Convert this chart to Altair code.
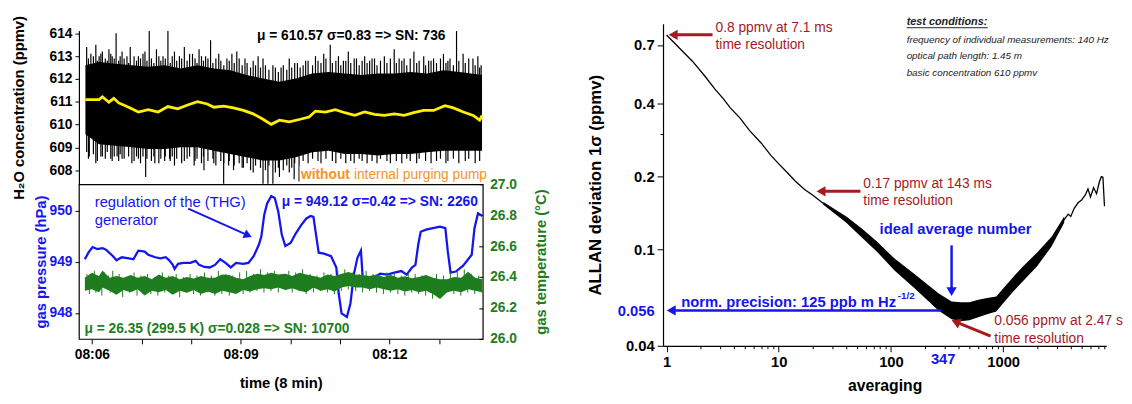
import altair as alt
import pandas as pd

FONT = "Liberation Sans"
BLUE = "#1515EE"
GREEN = "#1E7D1E"
DRED = "#A51A1F"
ORANGE = "#F7941D"
YELLOW = "#FFF000"

# ---------------- top-left panel: H2O concentration (time in minutes after 08:00)
band_t = [5.869, 6.145, 6.475, 6.806, 7.137, 7.467, 7.798, 8.128, 8.459, 8.79, 9.12, 9.451,
          9.782, 10.112, 10.443, 10.774, 11.104, 11.435, 11.766, 12.096, 12.427, 12.757,
          13.088, 13.419, 13.868]
band_hi = [612.6, 612.74, 612.67, 612.6, 612.53, 612.6, 612.46, 612.6, 612.46, 612.38, 612.17,
           612.02, 611.88, 612.02, 612.24, 612.31, 612.24, 612.17, 612.24, 612.24, 612.31,
           612.24, 612.38, 612.31, 612.17]
band_lo = [609.57, 609.14, 609.07, 609.0, 608.93, 608.93, 609.0, 609.0, 608.85, 608.71, 608.57,
           608.42, 608.42, 608.57, 608.78, 608.85, 608.71, 608.71, 608.64, 608.71, 608.71,
           608.78, 608.85, 608.85, 608.85]
spike_up_t = [5.894, 5.979, 6.079, 6.145, 6.211, 6.343, 6.409, 6.488, 6.608, 6.707, 6.773,
              6.938, 7.070, 7.156, 7.302, 7.434, 7.533, 7.665, 7.765, 7.864, 8.029, 8.161,
              8.293, 8.393, 8.558, 8.723, 8.823, 8.922, 9.087, 9.253, 9.352, 9.451, 9.650,
              9.815, 9.980, 10.145, 10.311, 10.509, 10.675, 10.807, 10.972, 11.072, 11.171,
              11.336, 11.501, 11.601, 11.700, 11.898, 12.097, 12.196, 12.296, 12.494, 12.692,
              12.792, 12.891, 13.090, 13.222, 13.354, 13.486, 13.685, 13.784, 13.850,
              5.93, 6.03, 6.11, 6.18, 6.27, 6.31, 6.38, 6.45, 6.54, 6.57, 6.65, 6.74, 6.85,
              6.90, 6.98, 7.03, 7.11, 7.2, 7.25, 7.35, 7.39, 7.48, 7.58, 7.62, 7.71, 7.81, 7.92,
              7.97, 8.08, 8.12, 8.21, 8.25, 8.34, 8.44, 8.5, 8.6, 8.66, 8.77, 8.87, 8.97, 9.03,
              9.13, 9.2, 9.3, 9.4, 9.5, 9.57, 9.7, 9.76, 9.86, 9.93, 10.03, 10.09, 10.2, 10.26,
              10.36, 10.45, 10.56, 10.62, 10.72, 10.85, 10.92, 11.02, 11.12, 11.22, 11.29,
              11.39, 11.45, 11.55, 11.65, 11.75, 11.82, 11.95, 12.02, 12.14, 12.25, 12.35,
              12.42, 12.55, 12.6, 12.73, 12.84, 12.95, 13.03, 13.14, 13.18, 13.29, 13.4, 13.53,
              13.6, 13.73, 13.82]
spike_up_v = [613.4, 613.1, 613.5, 613.0, 613.2, 613.3, 613.0, 614.0, 613.2, 613.0, 613.4,
              613.0, 613.2, 614.1, 613.3, 613.0, 614.1, 613.2, 613.0, 613.4, 613.1, 613.3,
              613.0, 613.7, 613.1, 612.9, 613.1, 613.2, 612.9, 612.8, 613.0, 612.9, 612.6,
              612.5, 612.9, 612.7, 612.8, 613.0, 613.1, 613.5, 613.0, 612.8, 613.2, 612.9,
              613.0, 612.8, 612.9, 613.0, 613.3, 612.9, 612.9, 613.2, 613.0, 612.8, 612.9,
              613.1, 612.9, 614.1, 613.1, 612.9, 613.0, 612.6,
              612.9, 613.0, 612.8, 613.1, 612.9, 612.8, 613.1, 612.9, 612.8, 613.0, 612.9,
              612.7, 613.0, 612.8, 612.9, 613.1, 612.8, 612.9, 612.7, 613.0, 612.8, 612.9,
              612.7, 613.0, 612.8, 612.9, 612.8, 613.1, 612.9, 612.7, 613.0, 612.8, 612.9,
              612.7, 612.9, 612.8, 612.6, 612.8, 612.7, 612.9, 612.6, 612.7, 612.5, 612.6,
              612.5, 612.6, 612.4, 612.5, 612.3, 612.6, 612.4, 612.5, 612.7, 612.5, 612.6,
              612.8, 612.6, 612.8, 612.7, 612.9, 612.7, 612.8, 612.6, 612.8, 612.7, 612.9,
              612.6, 612.8, 612.7, 612.9, 612.6, 612.8, 612.7, 612.9, 612.7, 612.8, 612.6,
              612.9, 612.7, 612.8, 612.6, 612.8, 612.7, 612.9, 612.7, 612.8, 612.6, 612.8,
              612.7, 612.9, 612.6, 612.5]
spike_dn_t = [5.894, 5.947, 6.079, 6.211, 6.409, 6.508, 6.608, 6.806, 6.938, 7.084, 7.269,
              7.467, 7.566, 7.665, 7.864, 8.062, 8.260, 8.459, 8.657, 8.757, 8.856, 9.055,
              9.253, 9.451, 9.550, 9.650, 9.782, 9.980, 10.079, 10.178,
              5.93, 6.03, 6.11, 6.18, 6.27, 6.31, 6.38, 6.45, 6.54, 6.57, 6.65, 6.74, 6.85,
              6.90, 6.98, 7.03, 7.11, 7.2, 7.25, 7.35, 7.39, 7.48, 7.58, 7.62, 7.71, 7.81, 7.92,
              7.97, 8.08, 8.12, 8.21, 8.25, 8.34, 8.44, 8.5, 8.6, 8.66, 8.77, 8.87, 8.97, 9.03,
              9.13, 9.2, 9.3, 9.4, 9.5, 9.57, 9.7, 9.76, 9.86, 9.93, 10.03, 10.09, 10.26, 10.36,
              10.45, 10.56, 10.62, 10.72, 10.85, 10.92, 11.02, 11.12, 11.22, 11.29, 11.39,
              11.45, 11.55, 11.65, 11.75, 11.82, 11.95, 12.02, 12.14, 12.25, 12.35, 12.42,
              12.55, 12.6, 12.73, 12.84, 12.95, 13.03, 13.14, 13.18, 13.29, 13.4, 13.53, 13.6,
              13.73, 13.82]
spike_dn_v = [608.8, 608.6, 608.3, 608.6, 608.4, 608.6, 608.5, 608.3, 608.5, 607.7, 608.3,
              608.4, 608.5, 608.2, 608.4, 608.2, 608.0, 608.3, 607.4, 608.2, 608.0, 608.1,
              607.9, 607.4, 607.4, 607.4, 607.7, 607.9, 607.6, 607.5,
              608.5, 608.7, 608.4, 608.6, 608.5, 608.8, 608.5, 608.6, 608.4, 608.7, 608.5,
              608.6, 608.4, 608.6, 608.3, 608.6, 608.5, 608.4, 608.6, 608.3, 608.5, 608.6,
              608.4, 608.6, 608.5, 608.3, 608.5, 608.6, 608.4, 608.5, 608.3, 608.6, 608.4,
              608.5, 608.2, 608.4, 608.3, 608.4, 608.2, 608.3, 608.1, 608.3, 608.0, 608.2,
              608.1, 608.0, 608.2, 607.9, 608.1, 608.0, 608.2, 608.1, 608.3, 608.4, 608.3,
              608.5, 608.4, 608.3, 608.5, 608.4, 608.3, 608.5, 608.3, 608.4, 608.3, 608.5,
              608.4, 608.3, 608.4, 608.3, 608.5, 608.4, 608.3, 608.4, 608.3, 608.5, 608.4,
              608.3, 608.5, 608.4, 608.3, 608.4, 608.5, 608.3, 608.4, 608.5, 608.3, 608.4,
              608.5, 608.3, 608.4]
yellow_t = [5.867, 6.145, 6.211, 6.343, 6.442, 6.541, 6.74, 6.938, 7.137, 7.335, 7.533, 7.732,
            7.93, 8.129, 8.327, 8.46, 8.658, 8.856, 9.055, 9.253, 9.451, 9.617, 9.782, 9.98,
            10.18, 10.38, 10.51, 10.71, 10.91, 11.10, 11.30, 11.50, 11.70, 11.90, 12.10, 12.30,
            12.49, 12.69, 12.89, 13.12, 13.29, 13.49, 13.69, 13.82, 13.87]
yellow_v = [611.09, 611.09, 611.22, 610.98, 611.15, 610.95, 610.76, 610.55, 610.65, 610.55,
            610.79, 610.69, 610.86, 611.0, 610.9, 610.76, 610.81, 610.73, 610.62, 610.47,
            610.23, 610.01, 610.19, 610.12, 610.22, 610.33, 610.59, 610.55, 610.65, 610.52,
            610.4, 610.55, 610.45, 610.4, 610.47, 610.4, 610.52, 610.62, 610.62, 610.83,
            610.73, 610.55, 610.4, 610.19, 610.4]

# ---------------- bottom-left panel: pressure and temperature
p_t = [5.858, 5.929, 6.014, 6.106, 6.213, 6.284, 6.426, 6.496, 6.603, 6.745, 6.837, 6.936,
       7.064, 7.135, 7.277, 7.383, 7.489, 7.560, 7.631, 7.667, 7.738, 7.844, 7.986, 8.092,
       8.163, 8.270, 8.376, 8.482, 8.589, 8.695, 8.801, 8.908, 9.050, 9.156, 9.262, 9.369,
       9.418, 9.475, 9.532, 9.617, 9.688, 9.759, 9.830, 9.901, 10.007, 10.113, 10.220,
       10.326, 10.411, 10.468, 10.525, 10.574, 10.681, 10.823, 10.929, 10.979, 11.035,
       11.142, 11.213, 11.284, 11.355, 11.426, 11.461, 11.532, 11.674, 11.816, 11.957,
       12.099, 12.241, 12.348, 12.454, 12.525, 12.582, 12.631, 12.738, 12.879, 13.021,
       13.128, 13.177, 13.234, 13.340, 13.482, 13.589, 13.660, 13.716, 13.787, 13.872]
p_v = [949.05, 949.18, 949.29, 949.25, 949.27, 949.24, 949.11, 949.03, 949.09, 949.07, 949.05,
       949.22, 949.20, 949.14, 949.09, 949.07, 949.09, 949.03, 948.94, 948.86, 948.96, 948.98,
       948.98, 949.02, 948.94, 948.90, 948.89, 948.94, 949.05, 948.98, 948.89, 948.98, 948.96,
       948.98, 949.11, 949.34, 949.50, 949.92, 950.14, 950.29, 950.25, 949.98, 949.53, 949.31,
       949.37, 949.56, 949.72, 949.85, 949.90, 949.88, 949.50, 949.18, 949.16, 949.11, 948.89,
       948.37, 947.99, 947.92, 948.18, 948.76, 949.08, 949.22, 948.69, 948.68, 948.69, 948.77,
       948.75, 948.79, 948.82, 948.75, 948.89, 948.94, 949.34, 949.59, 949.63, 949.66, 949.69,
       949.66, 949.21, 948.79, 948.81, 948.92, 949.05, 949.14, 949.66, 949.95, 949.90]
temp_t = [5.858, 6.0, 6.142, 6.213, 6.355, 6.496, 6.638, 6.78, 6.922, 7.064, 7.206, 7.348,
          7.489, 7.631, 7.773, 7.915, 8.057, 8.199, 8.34, 8.482, 8.624, 8.766, 8.908, 9.05,
          9.191, 9.333, 9.475, 9.617, 9.759, 9.901, 10.043, 10.184, 10.326, 10.468, 10.61,
          10.752, 10.894, 11.035, 11.177, 11.319, 11.461, 11.603, 11.745, 11.887, 12.028,
          12.17, 12.312, 12.454, 12.596, 12.738, 12.879, 13.021, 13.163, 13.305, 13.447,
          13.589, 13.73, 13.872]
temp_hi = [26.396, 26.428, 26.407, 26.443, 26.396, 26.407, 26.396, 26.413, 26.396, 26.407,
           26.386, 26.417, 26.396, 26.407, 26.386, 26.400, 26.390, 26.407, 26.396, 26.396,
           26.417, 26.413, 26.396, 26.386, 26.407, 26.422, 26.413, 26.428, 26.417, 26.422,
           26.407, 26.428, 26.417, 26.407, 26.396, 26.417, 26.407, 26.422, 26.432, 26.417,
           26.413, 26.407, 26.417, 26.400, 26.413, 26.396, 26.405, 26.392, 26.400, 26.413,
           26.396, 26.386, 26.386, 26.400, 26.396, 26.434, 26.396, 26.386]
temp_lo = [26.311, 26.322, 26.301, 26.333, 26.311, 26.286, 26.316, 26.301, 26.322, 26.280,
           26.311, 26.301, 26.316, 26.286, 26.311, 26.299, 26.316, 26.290, 26.307, 26.290,
           26.311, 26.301, 26.290, 26.316, 26.307, 26.322, 26.328, 26.322, 26.333, 26.316,
           26.328, 26.311, 26.301, 26.333, 26.311, 26.322, 26.307, 26.333, 26.343, 26.333,
           26.333, 26.322, 26.333, 26.322, 26.311, 26.322, 26.307, 26.316, 26.301, 26.311,
           26.290, 26.258, 26.301, 26.311, 26.301, 26.322, 26.311, 26.301]
gspike_up_t = [5.90, 6.05, 6.10, 6.25, 6.33, 6.42, 6.55, 6.70, 6.85, 6.99, 7.12, 7.27, 7.42,
               7.55, 7.70, 7.85, 7.98, 8.12, 8.27, 8.41, 8.55, 8.70, 8.84, 8.98, 9.12, 9.26,
               9.40, 9.54, 9.68, 9.83, 9.97, 10.11, 10.25, 10.40, 10.54, 10.68, 10.82, 10.96,
               11.10, 11.25, 11.39, 11.53, 11.67, 11.81, 11.95, 12.10, 12.24, 12.38, 12.52,
               12.66, 12.80, 12.95, 13.09, 13.23, 13.37, 13.51, 13.65, 13.80]
gspike_up_v = [26.42, 26.44, 26.41, 26.43, 26.41, 26.44, 26.42, 26.40, 26.43, 26.41, 26.42,
               26.40, 26.43, 26.41, 26.42, 26.40, 26.42, 26.41, 26.43, 26.41, 26.44, 26.42,
               26.41, 26.43, 26.44, 26.42, 26.45, 26.43, 26.44, 26.42, 26.44, 26.43, 26.45,
               26.42, 26.41, 26.43, 26.42, 26.44, 26.45, 26.43, 26.42, 26.44, 26.42, 26.41,
               26.43, 26.42, 26.41, 26.43, 26.42, 26.41, 26.40, 26.42, 26.41, 26.43, 26.44,
               26.45, 26.42, 26.41]
gspike_dn_t = [5.95, 6.08, 6.20, 6.37, 6.48, 6.62, 6.76, 6.91, 7.05, 7.19, 7.33, 7.47, 7.62,
               7.77, 7.91, 8.05, 8.19, 8.34, 8.48, 8.62, 8.77, 8.91, 9.05, 9.19, 9.33, 9.47,
               9.61, 9.76, 9.90, 10.04, 10.18, 10.32, 10.47, 10.61, 10.75, 10.89, 11.03, 11.17,
               11.32, 11.46, 11.60, 11.74, 11.88, 12.02, 12.17, 12.31, 12.45, 12.59, 12.73,
               12.87, 13.01, 13.16, 13.30, 13.44, 13.58, 13.72, 13.86]
gspike_dn_v = [26.29, 26.30, 26.28, 26.30, 26.29, 26.27, 26.30, 26.28, 26.30, 26.29, 26.28,
               26.30, 26.29, 26.27, 26.30, 26.29, 26.28, 26.30, 26.28, 26.29, 26.28, 26.30,
               26.29, 26.30, 26.31, 26.30, 26.31, 26.30, 26.32, 26.30, 26.31, 26.29, 26.30,
               26.31, 26.30, 26.29, 26.31, 26.32, 26.31, 26.30, 26.31, 26.30, 26.29, 26.30,
               26.29, 26.28, 26.30, 26.29, 26.28, 26.26, 26.29, 26.30, 26.29, 26.28, 26.30,
               26.29, 26.30]

# ---------------- right panel: Allan deviation
allan_n = [1, 1.3, 1.7, 2.2, 2.7, 3.2, 3.7, 4.5, 5.5, 7, 8.5, 10, 12, 14, 17, 20, 25, 30, 40,
           55, 75, 107, 130, 163, 210, 265, 347, 420, 500, 600, 720, 869, 1000, 1230, 1500,
           1740, 2000, 2300, 2700, 3100, 3500, 3800, 4000, 4300, 4650, 5000, 5400, 5700, 6000,
           6400, 6800, 7200, 7500, 7750, 8000]
allan_v = [0.77, 0.68, 0.60, 0.52, 0.46, 0.42, 0.385, 0.35, 0.31, 0.275, 0.245, 0.226, 0.207,
           0.192, 0.177, 0.168, 0.155, 0.146, 0.133, 0.117, 0.103, 0.087, 0.081, 0.074, 0.067,
           0.061, 0.056, 0.055, 0.0555, 0.057, 0.058, 0.0593, 0.064, 0.072, 0.079, 0.0846,
           0.091, 0.097, 0.108, 0.12, 0.133, 0.14, 0.137, 0.148, 0.156, 0.16, 0.168, 0.178,
           0.165, 0.18, 0.17, 0.19, 0.2, 0.199, 0.151]
noise_n = [25, 40, 55, 75, 107, 163, 265, 347, 420, 500, 600, 720, 869, 1000, 1230, 1500,
           2000, 2700, 3500]
noise_lo = [0.153, 0.129, 0.112, 0.098, 0.082, 0.069, 0.056, 0.0515, 0.0505, 0.051, 0.0525,
            0.054, 0.0555, 0.06, 0.067, 0.074, 0.085, 0.103, 0.129]
noise_hi = [0.157, 0.137, 0.122, 0.108, 0.092, 0.079, 0.066, 0.061, 0.0605, 0.0605, 0.062,
            0.063, 0.064, 0.069, 0.077, 0.085, 0.097, 0.113, 0.137]

# ---------------- scales
XS = alt.Scale(domain=[5.738, 13.883], nice=False, zero=False)
YS_TOP = alt.Scale(domain=[607.38, 614.12], nice=False, zero=False)
YS_P = alt.Scale(domain=[947.49, 950.52], nice=False, zero=False)
YS_T = alt.Scale(domain=[26.0, 27.0], nice=False, zero=False)
XS_R = alt.Scale(type="log", domain=[0.93, 8300], nice=False)
YS_R = alt.Scale(type="log", domain=[0.04, 0.857], nice=False)

B = dict(labelFont=FONT, titleFont=FONT, labelFontWeight="bold", titleFontWeight="bold",
         grid=False, tickColor="black", domainColor="black")

AX_TOP_Y = alt.Axis(values=[608, 609, 610, 611, 612, 613, 614], format="d",
                    title="H₂O concentration (ppmv)", titleX=-61, titleBaseline="middle",
                    titleAngle=270, titleFontSize=15, titleColor="black", labelFontSize=14,
                    labelColor="black", labelPadding=3, tickSize=4, domainWidth=1.2, **B)
AX_BOT_X = alt.Axis(values=[6, 7, 8, 9, 10, 11, 12, 13],
                    labelExpr="datum.value == 6 ? '08:06' : datum.value == 9 ? '08:09' : datum.value == 12 ? '08:12' : ''",
                    title="time (8 min)", titleY=44.5, titleBaseline="middle", titleFontSize=15,
                    titleColor="black", labelFontSize=14, labelColor="black", labelPadding=4,
                    tickSize=5, labelFlush=False, labelOverlap=False, domain=False, **B)
AX_P_Y = alt.Axis(values=[948, 949, 950], format="d", title="gas pressure (hPa)", titleX=-39,
                  titleBaseline="middle", titleAngle=270, titleFontSize=15, titleColor=BLUE,
                  labelFontSize=14, labelColor=BLUE, labelPadding=3, tickSize=4, domain=False, **B)
AX_T_Y = alt.Axis(orient="right", values=[26.0, 26.2, 26.4, 26.6, 26.8, 27.0], format=".1f",
                  title="gas temperature (°C)", titleX=63, titleBaseline="middle", titleAngle=270,
                  titleFontSize=15, titleColor=GREEN, labelFontSize=14, labelColor=GREEN,
                  labelPadding=7, tickSize=4, offset=-4, domain=False, **B)

maj = [1, 10, 100, 1000]
xminor = [2, 3, 4, 5, 6, 7, 8, 9, 20, 30, 40, 50, 60, 70, 80, 90, 200, 300, 400, 500, 600,
          700, 800, 900, 2000, 3000, 4000, 5000, 6000, 7000, 8000]
AX_R_X = alt.Axis(values=sorted(maj + xminor + [347]),
                  labelExpr="indexof([1,10,100,1000,347], datum.value) >= 0 ? '' + datum.value : ''",
                  tickSize={"condition": {"test": "indexof([1,10,100,1000], datum.value) >= 0", "value": 6}, "value": 3},
                  tickOpacity={"condition": {"test": "datum.value == 347", "value": 0}, "value": 1},
                  labelColor={"condition": {"test": "datum.value == 347", "value": BLUE}, "value": "black"},
                  labelOffset={"condition": {"test": "datum.value == 347", "value": -9}, "value": 0},
                  title="averaging", titleY=40.5, titleBaseline="middle", titleFontSize=16,
                  titleColor="black", labelFontSize=15, labelPadding=3, labelFlush=False,
                  labelOverlap=False, domainWidth=1.2, **B)
AX_R_Y = alt.Axis(values=[0.04, 0.056, 0.1, 0.2, 0.3, 0.4, 0.7],
                  labelExpr="datum.value == 0.3 ? '' : '' + datum.value",
                  labelColor={"condition": {"test": "datum.value == 0.056", "value": BLUE}, "value": "black"},
                  tickSize={"condition": {"test": "datum.value == 0.3", "value": 3}, "value": 6},
                  tickOpacity={"condition": {"test": "datum.value == 0.056", "value": 0}, "value": 1},
                  title="ALLAN deviation 1σ (ppmv)", titleX=-68, titleBaseline="middle",
                  titleAngle=270, titleFontSize=17, titleColor="black", labelFontSize=15,
                  labelPadding=3, labelFlush=False, labelOverlap=False, domainWidth=1.2, **B)


def enc(xf, yf, xs, ys, xa, ya, **extra):
    return dict(x=alt.X(f"{xf}:Q", scale=xs, axis=xa), y=alt.Y(f"{yf}:Q", scale=ys, axis=ya), **extra)


# ---------------- top-left chart
df_band = pd.DataFrame({"t": band_t, "hi": band_hi, "lo": band_lo})
df_sup = pd.DataFrame({"t": spike_up_t, "tip": spike_up_v})
df_sdn = pd.DataFrame({"t": spike_dn_t, "tip": spike_dn_v})
df_sup["base"] = 610.6
df_sdn["base"] = 610.6
df_yel = pd.DataFrame({"t": yellow_t, "v": yellow_v})

tk = lambda xf, yf, **e: enc(xf, yf, XS, YS_TOP, None, AX_TOP_Y, **e)

top = alt.layer(
    alt.Chart(df_band).mark_area(color="black").encode(**tk("t", "hi", y2="lo:Q")),
    alt.Chart(df_sup).mark_rule(color="black", strokeWidth=1.2).encode(**tk("t", "tip", y2="base:Q")),
    alt.Chart(df_sdn).mark_rule(color="black", strokeWidth=1.2).encode(**tk("t", "tip", y2="base:Q")),
    alt.Chart(df_yel).mark_line(color=YELLOW, strokeWidth=2.8).encode(**tk("t", "v")),
    alt.Chart(pd.DataFrame({"t": [10.19], "t2": [13.883], "v": [607.38], "v2": [608.17]}))
    .mark_rect(color="white").encode(**tk("t", "v", x2="t2:Q", y2="v2:Q")),
    alt.Chart(pd.DataFrame({"t": [11.23], "v": [613.86], "txt": ["μ = 610.57  σ=0.83 => SN: 736"]}))
    .mark_text(font=FONT, fontSize=14, fontWeight="bold", color="black", align="center", baseline="middle")
    .encode(**tk("t", "v", text="txt:N")),
    alt.Chart(pd.DataFrame({"t": [11.204], "v": [607.77], "txt": ["without"]}))
    .mark_text(font=FONT, fontSize=14, fontWeight="bold", color=ORANGE, align="right", baseline="middle")
    .encode(**tk("t", "v", text="txt:N")),
    alt.Chart(pd.DataFrame({"t": [11.204], "v": [607.77], "txt": ["internal purging pump"]}))
    .mark_text(font=FONT, fontSize=14, color=ORANGE, align="left", baseline="middle", dx=4)
    .encode(**tk("t", "v", text="txt:N")),
).properties(width=410, height=156)

# ---------------- bottom-left chart
df_p = pd.DataFrame({"t": p_t, "p": p_v})
df_T = pd.DataFrame({"t": temp_t, "hi": temp_hi, "lo": temp_lo})
df_gup = pd.DataFrame({"t": gspike_up_t, "tip": gspike_up_v})
df_gdn = pd.DataFrame({"t": gspike_dn_t, "tip": gspike_dn_v})
df_gup["base"] = 26.355
df_gdn["base"] = 26.355
pk = lambda xf, yf, **e: enc(xf, yf, XS, YS_P, AX_BOT_X, AX_P_Y, **e)
tkk = lambda xf, yf, **e: enc(xf, yf, XS, YS_T, AX_BOT_X, AX_T_Y, **e)

p_group = alt.layer(
    alt.Chart(df_p).mark_line(color=BLUE, strokeWidth=2.3).encode(**pk("t", "p")),
    alt.Chart(pd.DataFrame({"t": [6.057, 6.057], "p": [950.18, 949.81],
                            "txt": ["regulation of the (THG)", "generator"]}))
    .mark_text(font=FONT, fontSize=15, color=BLUE, align="left", baseline="middle")
    .encode(**pk("t", "p", text="txt:N")),
    alt.Chart(pd.DataFrame({"t": [13.784], "p": [950.18], "txt": ["μ = 949.12  σ=0.42 => SN: 2260"]}))
    .mark_text(font=FONT, fontSize=14, fontWeight="bold", color=BLUE, align="right", baseline="middle")
    .encode(**pk("t", "p", text="txt:N")),
    alt.Chart(pd.DataFrame({"t": [7.942], "p": [950.044], "t2": [9.149], "p2": [949.519]}))
    .mark_rule(color=BLUE, strokeWidth=2).encode(**pk("t", "p", x2="t2:Q", y2="p2:Q")),
    alt.Chart(pd.DataFrame({"t": [9.149], "p": [949.519]}))
    .mark_point(shape="triangle-right", filled=True, size=90, color=BLUE, opacity=1, angle=24)
    .encode(**pk("t", "p")),
)
t_group = alt.layer(
    alt.Chart(df_T).mark_area(color=GREEN).encode(**tkk("t", "hi", y2="lo:Q")),
    alt.Chart(df_gup).mark_rule(color=GREEN, strokeWidth=1).encode(**tkk("t", "tip", y2="base:Q")),
    alt.Chart(df_gdn).mark_rule(color=GREEN, strokeWidth=1).encode(**tkk("t", "tip", y2="base:Q")),
    alt.Chart(pd.DataFrame({"t": [5.849], "T": [26.067],
                            "txt": ["μ = 26.35 (299.5 K)  σ=0.028 => SN: 10700"]}))
    .mark_text(font=FONT, fontSize=14, fontWeight="bold", color=GREEN, align="left", baseline="middle")
    .encode(**tkk("t", "T", text="txt:N")),
)
bottom = alt.layer(p_group, t_group).resolve_scale(y="independent").properties(
    width=410, height=157, view=alt.ViewBackground(stroke="black", strokeWidth=1.2))

spacer = alt.Chart(pd.DataFrame({"a": [0]})).mark_point(opacity=0).encode(
    x=alt.X("a:Q", axis=None), y=alt.Y("a:Q", axis=None)).properties(width=410, height=7)

left = alt.vconcat(spacer, top, bottom, spacing=0, bounds="flush")

# ---------------- right chart
rk = lambda xf, yf, **e: enc(xf, yf, XS_R, YS_R, AX_R_X, AX_R_Y, **e)
df_allan = pd.DataFrame({"n": allan_n, "v": allan_v})
df_noise = pd.DataFrame({"n": noise_n, "lo": noise_lo, "hi": noise_hi})
red_arrows = pd.DataFrame({"n": [1.145, 23.8, 378], "v": [0.771, 0.174, 0.0502],
                           "n2": [2.57, 53.5, 773], "v2": [0.771, 0.174, 0.0439],
                           "ang": [0, 0, 22]})
red_txt = pd.DataFrame({"n": [2.73, 2.73, 56.7, 56.7, 834, 834],
                        "v": [0.825, 0.697, 0.186, 0.1586, 0.0505, 0.0427],
                        "txt": ["0.8 ppmv at 7.1 ms", "time resolution", "0.17 ppmv at 143 ms",
                                "time resolution", "0.056 ppmv at 2.47 s", "time resolution"]})
blue_arrows = pd.DataFrame({"n": [347, 1.1], "v": [0.067, 0.056], "n2": [347, 281],
                            "v2": [0.104, 0.056], "shp": ["triangle-down", "triangle-left"]})
cond_txt = pd.DataFrame({"n": [138, 138, 138], "v": [0.737, 0.629, 0.536],
                         "txt": ["frequency of individual measurements: 140 Hz",
                                 "optical path length: 1.45 m", "basic concentration 610 ppmv"]})

right = alt.layer(
    alt.Chart(df_noise).mark_area(color="black").encode(**rk("n", "hi", y2="lo:Q")),
    alt.Chart(df_allan).mark_line(color="black", strokeWidth=1.3).encode(**rk("n", "v")),
    alt.Chart(red_arrows).mark_rule(color=DRED, strokeWidth=3).encode(**rk("n", "v", x2="n2:Q", y2="v2:Q")),
    alt.Chart(red_arrows).mark_point(shape="triangle-left", filled=True, size=110, color=DRED, opacity=1)
    .encode(**rk("n", "v", angle=alt.Angle("ang:Q", scale=None))),
    alt.Chart(red_txt).mark_text(font=FONT, fontSize=14, color=DRED, align="left", baseline="middle")
    .encode(**rk("n", "v", text="txt:N")),
    alt.Chart(blue_arrows).mark_rule(color=BLUE, strokeWidth=2.5).encode(**rk("n", "v", x2="n2:Q", y2="v2:Q")),
    alt.Chart(blue_arrows).mark_point(filled=True, size=110, color=BLUE, opacity=1)
    .encode(**rk("n", "v", shape=alt.Shape("shp:N", scale=None))),
    alt.Chart(pd.DataFrame({"n": [347], "v": [0.122], "txt": ["ideal average number"]}))
    .mark_text(font=FONT, fontSize=15, fontWeight="bold", color=BLUE, align="center", baseline="middle", dx=4)
    .encode(**rk("n", "v", text="txt:N")),
    alt.Chart(pd.DataFrame({"n": [1.35], "v": [0.0609], "txt": ["norm. precision: 125 ppb m Hz"]}))
    .mark_text(font=FONT, fontSize=15, fontWeight="bold", color=BLUE, align="left", baseline="middle")
    .encode(**rk("n", "v", text="txt:N")),
    alt.Chart(pd.DataFrame({"n": [115], "v": [0.0644], "txt": ["-1/2"]}))
    .mark_text(font=FONT, fontSize=10, fontWeight="bold", color=BLUE, align="left", baseline="middle")
    .encode(**rk("n", "v", text="txt:N")),
    alt.Chart(pd.DataFrame({"n": [138], "v": [0.871], "txt": ["test conditions:"]}))
    .mark_text(font=FONT, fontSize=11, fontWeight="bold", fontStyle="italic", color="#222222",
               align="left", baseline="middle")
    .encode(**rk("n", "v", text="txt:N")),
    alt.Chart(pd.DataFrame({"n": [138], "v": [0.825], "n2": [728]}))
    .mark_rule(color="#222222", strokeWidth=1).encode(**rk("n", "v", x2="n2:Q")),
    alt.Chart(cond_txt).mark_text(font=FONT, fontSize=10, fontStyle="italic", color="#222222",
                                  align="left", baseline="middle")
    .encode(**rk("n", "v", text="txt:N")),
).properties(width=450, height=327)

chart = alt.hconcat(left, right, spacing=38).properties(
    padding={"left": 4, "top": 4, "right": 0, "bottom": 0}
).configure(font=FONT).configure_view(stroke=None).configure_axis(grid=False)

chart.save("out.html", embed_options={"renderer": "svg", "actions": False})
